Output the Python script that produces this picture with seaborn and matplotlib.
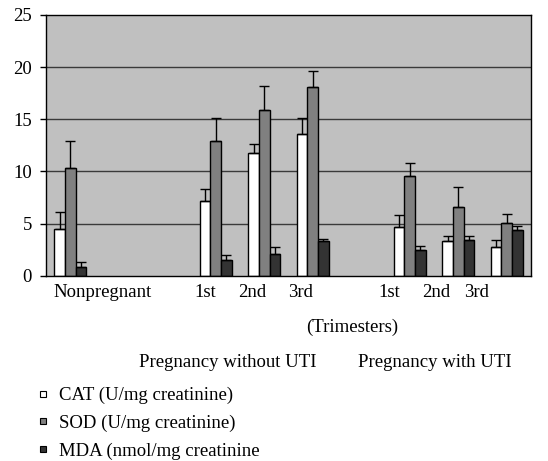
import matplotlib
matplotlib.use("Agg")
import matplotlib.pyplot as plt
import matplotlib.transforms as mtransforms
import seaborn as sns
import pandas as pd
import numpy as np
from matplotlib.lines import Line2D

# ---- data ----
slots = ["Nonpregnant", "gap1", "gap2", "wo1", "wo2", "wo3", "gap3", "w1", "w2", "w3"]
slot_labels = ["Nonpregnant", "", "", "1st", "2nd", "3rd", "", "1st", "2nd", "3rd"]
groups = ["Nonpregnant", "wo1", "wo2", "wo3", "w1", "w2", "w3"]
measures = ["CAT (U/mg creatinine)", "SOD (U/mg creatinine)", "MDA (nmol/mg creatinine"]
cat_vals = [4.5, 7.15, 11.8, 13.55, 4.7, 3.3, 2.8]
cat_err = [1.6, 1.2, 0.85, 1.6, 1.15, 0.55, 0.65]
sod_vals = [10.35, 12.95, 15.85, 18.05, 9.55, 6.55, 5.1]
sod_err = [2.6, 2.2, 2.35, 1.55, 1.25, 1.95, 0.85]
mda_vals = [0.85, 1.5, 2.05, 3.3, 2.45, 3.45, 4.35]
mda_err = [0.5, 0.5, 0.75, 0.25, 0.4, 0.4, 0.45]
colors = ["#FFFFFF", "#808080", "#333333"]

# layout: horizontal pixel shift of each tick label relative to its bar group
label_shift_px = [32, 0, 0, -10, -12, -12, 0, -20, -22, -30]

rows = []
for m, vals, errs in zip(measures, [cat_vals, sod_vals, mda_vals], [cat_err, sod_err, mda_err]):
    for g, v, e in zip(groups, vals, errs):
        rows.append({"slot": g, "measure": m, "value": v, "err": e})
df = pd.DataFrame(rows)

serif = ["Liberation Serif", "DejaVu Serif"]
plt.rcParams["font.family"] = serif
FS = 13.5

fig = plt.figure(figsize=(5.48, 4.61), dpi=100)
ax = fig.add_axes([46 / 548, 1 - 275.7 / 461, (531 - 46) / 548, (275.7 - 15) / 461])
ax.set_facecolor("#C0C0C0")

sns.barplot(data=df, x="slot", y="value", hue="measure", order=slots,
            hue_order=measures, palette=colors, width=0.66, edgecolor="black",
            linewidth=1.0, errorbar=None, legend=False, ax=ax, saturation=1)

for cont, m in zip(ax.containers, measures):
    sub = df[df.measure == m].copy()
    sub["idx"] = sub.slot.map({s: i for i, s in enumerate(slots)})
    sub = sub.sort_values("idx")
    bars = sorted(cont.patches, key=lambda p: p.get_x())
    xs = [b.get_x() + b.get_width() / 2 for b in bars]
    tops = [b.get_height() for b in bars]
    ax.errorbar(xs, tops, yerr=[np.zeros(len(xs)), sub.err.values], fmt="none",
                ecolor="black", elinewidth=1.0, capsize=3.5, capthick=1.0, zorder=3)

ax.set_ylim(0, 25)
ax.set_xlim(-0.5, 9.5)
ax.set_yticks([0, 5, 10, 15, 20, 25])
ax.set_yticklabels(["0", "5", "10", "15", "20", "25"], fontsize=FS)
ax.set_xticks(range(len(slots)))
ax.set_xticklabels(slot_labels, fontsize=FS)
ax.tick_params(axis="x", length=0, pad=6)
ax.tick_params(axis="y", length=4, width=1, direction="out", pad=6)
for lbl, dx in zip(ax.get_xticklabels(), label_shift_px):
    lbl.set_transform(lbl.get_transform() + mtransforms.ScaledTranslation(dx / 100, 0, fig.dpi_scale_trans))
ax.set_xlabel("")
ax.set_ylabel("")
for y in [5, 10, 15, 20]:
    ax.axhline(y, color="#3A3A3A", linewidth=1.0, zorder=0.5)
ax.set_axisbelow(True)
for s in ax.spines.values():
    s.set_color("black")
    s.set_linewidth(1.0)

fig.text(352 / 548, 1 - 327 / 461, "(Trimesters)", ha="center", va="center", fontsize=FS)
fig.text(228 / 548, 1 - 362 / 461, "Pregnancy without UTI", ha="center", va="center", fontsize=FS)
fig.text(435 / 548, 1 - 362 / 461, "Pregnancy with UTI", ha="center", va="center", fontsize=FS)

handles = [Line2D([0], [0], marker="s", linestyle="none", markersize=5.0,
                  markerfacecolor=c, markeredgecolor="black", markeredgewidth=0.8)
           for c in colors]
fig.legend(handles, measures, loc="upper left", bbox_to_anchor=(35 / 548, 1 - 387 / 461),
           frameon=False, fontsize=FS, handlelength=0.8, handletextpad=0.5,
           labelspacing=0.55, borderaxespad=0, borderpad=0)

fig.savefig("out.png", dpi=100)
